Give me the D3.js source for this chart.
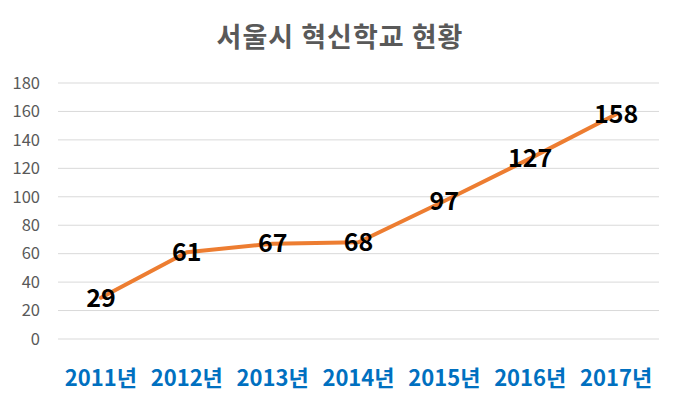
<!DOCTYPE html>
<html>
<head>
<meta charset="utf-8">
<script src="https://cdn.jsdelivr.net/npm/d3@7"></script>
<style>
  body { margin: 0; background: #fff; }
  text { font-family: "Noto Sans CJK KR", "Noto Sans", sans-serif; }
</style>
</head>
<body>
<svg width="680" height="407"></svg>
<script>
const title = "서울시 혁신학교 현황";
const years = ["2011년", "2012년", "2013년", "2014년", "2015년", "2016년", "2017년"];
const schools = [29, 61, 67, 68, 97, 127, 158];
const yTicks = [0, 20, 40, 60, 80, 100, 120, 140, 160, 180];

const svg = d3.select("svg");
const plotL = 58, plotR = 659, plotT = 83, plotB = 339;

const x = d3.scaleBand().domain(years).range([plotL, plotR]);
const y = d3.scaleLinear().domain([0, 180]).range([plotB, plotT]);

svg.append("text")
    .attr("x", 340).attr("y", 38)
    .attr("dy", "0.35em")
    .attr("text-anchor", "middle")
    .attr("font-size", 27).attr("font-weight", "bold")
    .attr("letter-spacing", 1)
    .attr("fill", "#595959")
    .text(title);

// gridlines + y labels
const yAxis = svg.append("g");
yAxis.selectAll("line").data(yTicks).enter().append("line")
    .attr("x1", plotL).attr("x2", plotR)
    .attr("y1", d => y(d)).attr("y2", d => y(d))
    .attr("stroke", "#d9d9d9").attr("stroke-width", 1);
yAxis.selectAll("text").data(yTicks).enter().append("text")
    .attr("x", 40).attr("y", d => y(d))
    .attr("dy", "0.35em")
    .attr("text-anchor", "end")
    .attr("font-size", 16.5)
    .attr("fill", "#595959")
    .text(d => d);

// x labels
svg.append("g").selectAll("text").data(years).enter().append("text")
    .attr("x", d => x(d) + x.bandwidth() / 2)
    .attr("y", 378)
    .attr("dy", "0.35em")
    .attr("text-anchor", "middle")
    .attr("font-size", 22).attr("font-weight", "bold")
    .attr("fill", "#0070c0")
    .text(d => d);

const pts = years.map((yr, i) => ({yr, v: schools[i]}));
const line = d3.line()
    .x(d => x(d.yr) + x.bandwidth() / 2)
    .y(d => y(d.v));

svg.append("path")
    .datum(pts)
    .attr("d", line)
    .attr("fill", "none")
    .attr("stroke", "#ed7d31")
    .attr("stroke-width", 4)
    .attr("stroke-linejoin", "round")
    .attr("stroke-linecap", "round");

svg.append("g").selectAll("text").data(pts).enter().append("text")
    .attr("x", d => x(d.yr) + x.bandwidth() / 2)
    .attr("y", d => y(d.v))
    .attr("dy", "0.35em")
    .attr("text-anchor", "middle")
    .attr("font-size", 25).attr("font-weight", "bold")
    .attr("fill", "#000")
    .text(d => d.v);
</script>
</body>
</html>
